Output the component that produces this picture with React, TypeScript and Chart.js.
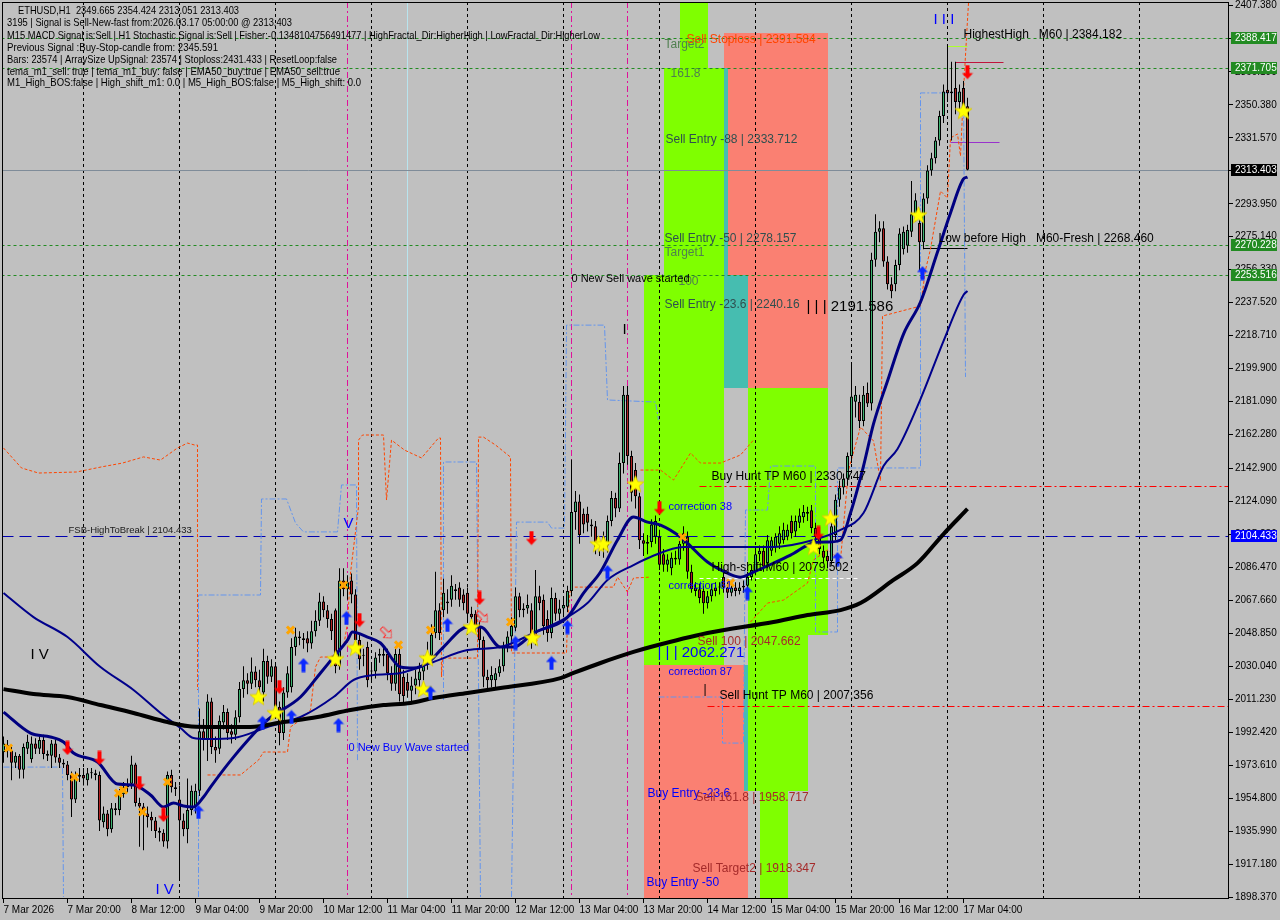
import React, { useEffect, useRef } from 'react';
import { Chart, registerables } from 'chart.js';

Chart.register(...registerables);
Chart.defaults.font.family = '"Liberation Sans", Arial, sans-serif';

// ETHUSD H1, bar 0 = 7 Mar 04:00, one bar per hour up to 17 Mar 05:00
const opens = [
  1981, 1985, 1982, 1975, 1979, 1971, 1983, 1977, 1986, 1983,
  1988, 1980, 1979, 1986, 1978, 1975, 1974, 1968, 1954, 1967,
  1968, 1965, 1969, 1969, 1968, 1941, 1946, 1937, 1949, 1948,
  1957, 1961, 1963, 1974, 1952, 1950, 1946, 1944, 1942, 1936,
  1935, 1930, 1968, 1961, 1954, 1942, 1937, 1948, 1950, 1959,
  1993, 1988, 2010, 1984, 1983, 1998, 2004, 1993, 1991, 2001,
  2017, 2022, 2020, 2027, 2022, 2015, 2033, 2024, 2030, 2007,
  1992, 2015, 2018, 2041, 2047, 2046, 2046, 2043, 2050, 2056,
  2067, 2062, 2057, 2062, 2030, 2079, 2074, 2079, 2071, 2045,
  2036, 2041, 2027, 2027, 2036, 2036, 2037, 2026, 2020, 2037,
  2024, 2021, 2016, 2019, 2022, 2027, 2031, 2036, 2049, 2062,
  2062, 2066, 2068, 2073, 2075, 2071, 2072, 2060, 2060, 2053,
  2045, 2024, 2022, 2022, 2026, 2030, 2041, 2047, 2052, 2070,
  2062, 2063, 2062, 2045, 2070, 2068, 2057, 2049, 2069, 2060,
  2063, 2064, 2073, 2118, 2124, 2117, 2117, 2111, 2110, 2099,
  2104, 2099, 2113, 2126, 2120, 2146, 2185, 2150, 2142, 2127,
  2102, 2100, 2101, 2104, 2104, 2094, 2088, 2086, 2092, 2091,
  2100, 2104, 2084, 2075, 2074, 2073, 2066, 2070, 2075, 2075,
  2081, 2075, 2072, 2075, 2073, 2075, 2076, 2081, 2084, 2094,
  2096, 2089, 2096, 2098, 2100, 2102, 2104, 2113, 2107, 2112,
  2115, 2118, 2119, 2109, 2104, 2096, 2093, 2090, 2105, 2125,
  2132, 2137, 2150, 2181, 2181, 2170, 2186, 2180, 2262, 2278,
  2280, 2261, 2248, 2248, 2259, 2268, 2270, 2278, 2288, 2283,
  2272, 2297, 2313, 2320, 2330, 2344, 2359, 2357, 2360, 2352,
  2360, 2349.665,
];
const highs = [
  1990, 1988, 1984, 1981, 1980, 1986, 1991, 1990, 1989, 1991,
  1991, 1982, 1988, 1988, 1980, 1977, 1976, 1970, 1970, 1972,
  1972, 1972, 1972, 1971, 1970, 1950, 1948, 1952, 1952, 1960,
  1964, 1966, 1979, 1975, 1955, 1952, 1950, 1947, 1944, 1938,
  1937, 1970, 1971, 1964, 1962, 1946, 1966, 1962, 1963, 2006,
  2000, 2014, 2012, 1990, 2002, 2008, 2006, 1997, 2005, 2021,
  2030, 2026, 2035, 2030, 2028, 2040, 2036, 2034, 2032, 2010,
  2018, 2030, 2046, 2052, 2050, 2049, 2050, 2056, 2062, 2072,
  2070, 2065, 2060, 2063, 2086, 2086, 2082, 2083, 2074, 2048,
  2040, 2044, 2031, 2038, 2040, 2041, 2040, 2030, 2040, 2040,
  2028, 2026, 2024, 2028, 2032, 2036, 2044, 2054, 2084, 2066,
  2080, 2074, 2082, 2077, 2078, 2074, 2075, 2064, 2062, 2056,
  2047, 2028, 2030, 2029, 2034, 2044, 2050, 2058, 2075, 2072,
  2066, 2071, 2066, 2085, 2076, 2071, 2062, 2075, 2072, 2068,
  2070, 2076, 2148, 2130, 2128, 2120, 2121, 2114, 2113, 2102,
  2107, 2116, 2130, 2129, 2152, 2190, 2190, 2153, 2146, 2129,
  2106, 2105, 2114, 2116, 2108, 2097, 2094, 2095, 2096, 2103,
  2110, 2107, 2088, 2078, 2077, 2076, 2073, 2077, 2078, 2078,
  2084, 2078, 2078, 2078, 2078, 2079, 2084, 2088, 2097, 2099,
  2099, 2105, 2104, 2106, 2110, 2112, 2111, 2116, 2116, 2120,
  2122, 2121, 2122, 2112, 2107, 2099, 2096, 2113, 2128, 2136,
  2140, 2152, 2202, 2190, 2185, 2190, 2192, 2266, 2288, 2284,
  2284, 2264, 2252, 2262, 2280, 2281, 2282, 2307, 2300, 2286,
  2300, 2316, 2323, 2332, 2347, 2362, 2384.5, 2375, 2375, 2362,
  2364, 2354.424,
];
const lows = [
  1975, 1978, 1965, 1972, 1966, 1966, 1980, 1975, 1980, 1980,
  1977, 1976, 1972, 1975, 1972, 1972, 1965, 1944, 1952, 1964,
  1962, 1962, 1966, 1965, 1936, 1938, 1933, 1935, 1945, 1945,
  1955, 1958, 1960, 1950, 1927, 1925, 1938, 1936, 1932, 1930,
  1927, 1926, 1958, 1956, 1908, 1933, 1929, 1945, 1946, 1956,
  1982, 1976, 1980, 1975, 1980, 1994, 1988, 1986, 1988, 1998,
  2012, 2014, 2017, 2018, 2012, 2010, 2020, 2021, 2000, 1985,
  1988, 2012, 2015, 2036, 2042, 2040, 2038, 2040, 2047, 2053,
  2058, 2052, 2045, 2026, 2028, 2070, 2068, 2066, 2040, 2028,
  2030, 2018, 2022, 2023, 2032, 2030, 2022, 2016, 2016, 2010,
  2008, 2012, 2010, 2014, 2018, 2022, 2028, 2033, 2046, 2045,
  2058, 2060, 2064, 2068, 2064, 2062, 2056, 2054, 2049, 2040,
  2018, 2017, 2018, 2017, 2024, 2027, 2038, 2043, 2050, 2058,
  2058, 2060, 2040, 2042, 2062, 2048, 2044, 2046, 2056, 2056,
  2058, 2061, 2070, 2108, 2100, 2106, 2107, 2104, 2094, 2093,
  2092, 2095, 2110, 2115, 2118, 2140, 2145, 2124, 2120, 2097,
  2093, 2094, 2098, 2100, 2085, 2084, 2084, 2082, 2088, 2088,
  2096, 2080, 2072, 2070, 2066, 2060, 2063, 2067, 2070, 2071,
  2072, 2069, 2070, 2070, 2071, 2072, 2073, 2079, 2082, 2090,
  2084, 2086, 2093, 2095, 2097, 2100, 2102, 2103, 2104, 2109,
  2112, 2113, 2106, 2101, 2094, 2089, 2086, 2088, 2102, 2121,
  2128, 2133, 2146, 2172, 2166, 2167, 2178, 2176, 2258, 2272,
  2258, 2245, 2240, 2244, 2256, 2265, 2266, 2275, 2284, 2256,
  2268, 2294, 2310, 2317, 2327, 2340, 2352, 2330, 2345, 2348,
  2345, 2313.051,
];
const closes = [
  1986, 1982, 1975, 1979, 1971, 1984, 1987, 1986, 1983, 1988,
  1980, 1979, 1986, 1978, 1975, 1974, 1968, 1954, 1967, 1968,
  1966, 1969, 1969, 1968, 1942, 1946, 1937, 1949, 1948, 1957,
  1961, 1962, 1974, 1952, 1950, 1946, 1944, 1942, 1936, 1935,
  1930, 1968, 1961, 1960, 1942, 1937, 1948, 1959, 1959, 1993,
  1988, 2010, 1984, 1982, 1999, 2004, 1992, 1991, 2001, 2017,
  2022, 2020, 2027, 2022, 2018, 2033, 2024, 2030, 2007, 1992,
  2015, 2026, 2041, 2047, 2046, 2045, 2043, 2050, 2056, 2067,
  2062, 2057, 2050, 2030, 2079, 2074, 2078, 2071, 2045, 2034,
  2036, 2022, 2027, 2035, 2037, 2037, 2026, 2020, 2037, 2014,
  2013, 2016, 2019, 2023, 2027, 2031, 2036, 2048, 2062, 2049,
  2072, 2067, 2076, 2074, 2068, 2066, 2060, 2058, 2053, 2045,
  2024, 2022, 2025, 2026, 2030, 2041, 2047, 2053, 2070, 2062,
  2063, 2065, 2045, 2070, 2066, 2053, 2049, 2069, 2060, 2063,
  2065, 2073, 2118, 2124, 2105, 2111, 2112, 2110, 2098, 2098,
  2099, 2113, 2126, 2120, 2146, 2185, 2150, 2129, 2127, 2102,
  2100, 2101, 2111, 2113, 2088, 2088, 2091, 2092, 2091, 2100,
  2106, 2084, 2074, 2073, 2069, 2066, 2070, 2074, 2073, 2075,
  2075, 2072, 2075, 2073, 2075, 2076, 2081, 2085, 2094, 2096,
  2087, 2102, 2102, 2104, 2106, 2108, 2108, 2106, 2113, 2116,
  2118, 2117, 2109, 2104, 2097, 2092, 2090, 2110, 2125, 2132,
  2137, 2150, 2184, 2185, 2170, 2185, 2180, 2262, 2278, 2280,
  2261, 2248, 2244, 2259, 2277, 2278, 2279, 2288, 2296, 2272,
  2297, 2313, 2320, 2330, 2344, 2358, 2357, 2358, 2352, 2358,
  2349.7, 2313.403,
];

const timeTickBars = [0, 16, 32, 48, 64, 80, 96, 112, 128, 144, 160, 176, 192, 208, 224, 240];
const timeTickLabels = [
  '7 Mar 2026', '7 Mar 20:00', '8 Mar 12:00', '9 Mar 04:00', '9 Mar 20:00', '10 Mar 12:00',
  '11 Mar 04:00', '11 Mar 20:00', '12 Mar 12:00', '13 Mar 04:00', '13 Mar 20:00', '14 Mar 12:00',
  '15 Mar 04:00', '15 Mar 20:00', '16 Mar 12:00', '17 Mar 04:00',
];
const dayStartBars = [20, 44, 68, 92, 116, 140, 164, 188, 212, 236, 260, 284];
const priceTicks = [
  2407.38, 2388.0, 2369.19, 2350.38, 2331.57, 2312.76, 2293.95, 2275.14, 2256.33, 2237.52,
  2218.71, 2199.9, 2181.09, 2162.28, 2142.9, 2124.09, 2105.28, 2086.47, 2067.66, 2048.85,
  2030.04, 2011.23, 1992.42, 1973.61, 1954.8, 1935.99, 1917.18, 1898.37,
];

// moving averages, read as [bar, price]
const emaFast = [
  [0, 2003.9], [6.75, 1991.9], [11.75, 1989.7], [15, 1986.8], [17.5, 1980.5], [23.5, 1975.4],
  [28.5, 1962.8], [32.5, 1962.3], [36.75, 1956.6], [40, 1949.7], [42.5, 1952.0], [45, 1950.3],
  [47.5, 1949.7], [50, 1955.4], [51.75, 1961.1], [57.5, 1978.2], [66, 1999.4], [74.25, 2012.5],
  [79.25, 2026.2], [82.5, 2035.3], [86, 2045.0], [87.25, 2049.6], [91, 2046.7], [94.25, 2043.3],
  [99.25, 2029.6], [102.5, 2029.0], [106, 2031.9], [110, 2041.0], [116, 2052.4], [119.25, 2052.4],
  [124.25, 2041.0], [127.5, 2041.0], [132.5, 2049.0], [141, 2058.1], [145, 2071.8], [149.25, 2083.8],
  [153.5, 2102.1], [157.5, 2115.2], [161, 2112.3], [164.25, 2110.6], [169.25, 2103.8], [176, 2089.5],
  [181, 2083.2], [184.25, 2080.9], [187.5, 2083.8], [192.5, 2088.9], [196.75, 2093.5], [202.5, 2100.4],
  [206, 2100.9], [209.25, 2102.1], [211.75, 2117.5], [215, 2144.3], [217.5, 2168.3], [221, 2192.8],
  [225, 2219.6], [229.25, 2237.9], [233.5, 2266.4], [236.75, 2288.7], [240, 2308.1], [241, 2309.2],
];
const emaSlow = [
  [0, 2071.8], [7.5, 2058.1], [16, 2046.7], [24.25, 2029.6], [32.5, 2016.5], [39.25, 2003.4],
  [44.25, 1994.8], [47.5, 1989.1], [51, 1988.5], [57.5, 1989.1], [66, 1995.4], [74.25, 2001.1],
  [82.5, 2012.5], [87.5, 2022.2], [92.5, 2025.0], [99.25, 2026.2], [107.5, 2032.5], [116, 2039.3],
  [124.25, 2041.0], [132.5, 2049.0], [141, 2058.1], [146, 2066.1], [151, 2079.3], [157.5, 2087.8],
  [161.75, 2092.4], [170, 2098.1], [184.25, 2098.1], [192.5, 2098.1], [202.5, 2102.1], [209.25, 2107.8],
  [215, 2117.5], [220, 2144.3], [223.5, 2154.0], [229.25, 2182.5], [235, 2215.6], [240, 2241.9],
  [241, 2244.2],
];
const ma200 = [
  [0, 2017.0], [7.5, 2014.2], [16, 2012.5], [24.25, 2007.9], [32.5, 2003.4], [41, 1998.2],
  [46, 1995.9], [51, 1995.4], [61.75, 1995.4], [70, 1998.2], [78.5, 2001.1], [86.75, 2005.1],
  [95, 2007.9], [101.75, 2009.1], [107.5, 2011.9], [116, 2014.8], [124.25, 2017.6], [139.25, 2023.3],
  [142.5, 2026.2], [149.25, 2031.9], [157.5, 2038.2], [161.75, 2041.0], [176, 2049.0], [192.5, 2055.3],
  [201, 2059.3], [209.25, 2062.1], [214.25, 2066.1], [222.5, 2079.3], [228.5, 2088.9], [235, 2105.5],
  [241, 2119.8],
];

// fractal channel steps, one array per unbroken run: [bar, price]
const orangeRuns = [
  [[0, 2154.6], [4.5, 2143.2], [8.75, 2140.3], [18.25, 2140.9], [24.5, 2143.8], [29.75, 2146.0],
    [35, 2149.5], [39.25, 2147.7], [43.5, 2154.6], [46, 2157.4], [47.75, 2156.3], [48.5, 2156.3], [48.5, 2016.5]],
  [[51, 1968.0], [59.25, 1968.0], [63.75, 1976.5], [65, 1981.1], [71, 1981.1], [71.75, 1995.4],
    [74.25, 1999.4], [76.75, 2005.1], [78, 2029.6], [79.25, 2035.3], [81.75, 2035.3], [85, 2041.0],
    [86, 2054.7], [86.75, 2083.2], [87.75, 2102.1], [88.75, 2120.9], [88.75, 2159.1], [89.75, 2162.0],
    [95, 2162.0], [95.75, 2124.9], [97, 2159.1], [100.25, 2153.4], [104.5, 2148.9], [108.75, 2160.3],
    [109.25, 2160.3], [109.5, 2023.9], [109.75, 2034.7], [118.5, 2034.7], [118.75, 2160.8], [120, 2160.8],
    [123, 2156.3], [126.75, 2149.4], [127, 2037.6], [140.75, 2037.6], [141, 2056.4], [141.75, 2075.2],
    [152.5, 2075.2], [153.5, 2080.9], [156, 2072.4], [157.5, 2080.4], [161.75, 2080.9]],
  [[159.25, 2142.0], [164.25, 2142.0], [167.5, 2136.3], [171.75, 2151.7], [174.25, 2146.0],
    [179.25, 2146.0], [184.25, 2150.6], [187.5, 2159.1]],
  [[186.75, 2055.3], [191, 2066.1], [195, 2067.8], [201, 2077.5], [202.5, 2090.7], [206, 2096.4],
    [209.25, 2090.7], [211.25, 2142.0], [214.25, 2166.6], [217.5, 2158.6], [219.25, 2135.8],
    [219.75, 2229.9], [229.25, 2235.6], [230.5, 2256.2], [231.75, 2268.1], [234.25, 2301.2],
    [236, 2297.2], [236.75, 2331.5], [238.5, 2333.8], [239.25, 2321.2], [240, 2358.3], [241, 2398.8],
    [241.25, 2408.5]],
];
const blueRuns = [
  [[0, 1972.5], [14.75, 1972.5], [15, 1898.4]],
  [[48.75, 1898.4], [48.75, 2070.7], [64.25, 2070.7], [64.5, 2125.5], [70.75, 2125.5], [73, 2111.8],
    [75, 2106.7], [83.5, 2106.7], [84.5, 2133.5], [88.25, 2133.5], [88.5, 1976.5]],
  [[110, 2010.8], [110, 2146.6], [118.25, 2146.6], [119.25, 1898.4]],
  [[127, 1898.4], [128.25, 2112.3], [136, 2112.3], [137, 2108.9], [140.25, 2108.9], [140.75, 2224.7],
    [150.25, 2224.7], [151, 2182.0], [163, 2180.8], [163.75, 2170.6]],
  [[163.75, 2012.5], [179.75, 2012.5], [179.75, 1986.2], [185, 1986.2], [185.5, 2119.2], [191, 2119.2],
    [191.75, 2144.3], [203, 2144.3], [203, 2049.6], [208.5, 2049.6], [208.5, 2143.2], [229.25, 2143.2],
    [229.25, 2357.2], [240, 2357.2], [240.5, 2195.1]],
];

// signal marks: [bar, price]
const sellArrows = [
  [16, 1983.4], [24, 1977.7], [34, 1963.4], [40, 1945.2], [69, 2018.2], [89, 2056.4],
  [119, 2069.0], [132, 2103.2], [164, 2120.3], [203.75, 2106.1], [241, 2369.1],
];
const buyArrows = [
  [48.75, 1946.9], [64.75, 1997.7], [72, 2001.1], [75, 2030.7], [85.75, 2057.6], [83.75, 1996.5],
  [106.75, 2014.8], [111, 2053.6], [128, 2043.3], [137, 2031.9], [141, 2052.4], [151, 2083.8],
  [186, 2071.8], [208.5, 2091.2], [229.75, 2254.4],
];
const hollowArrows = [[95.75, 2049.0], [119.75, 2058.1]];
const stars = [
  [63.75, 2012.5], [68, 2003.4], [83, 2034.2], [88, 2040.5], [106, 2034.7], [105, 2017.0],
  [117, 2052.4], [132.25, 2046.2], [148.75, 2099.8], [150, 2099.8], [158, 2134.0], [202.5, 2098.1],
  [206.75, 2114.6], [228.75, 2287.5], [240, 2346.9],
];
const crosses = [
  [1.25, 1983.4], [17.75, 1966.8], [28.75, 1957.7], [30, 1959.4], [34.75, 1946.9], [41, 1964.0],
  [71.75, 2050.7], [85, 2076.4], [98.75, 2042.2], [106.75, 2050.7], [126.75, 2055.3], [132.5, 2046.2],
  [169.75, 2103.8], [181.75, 2077.6],
];

// trade zones: [kind, fromBar, toBar, topPrice, bottomPrice]
const zones = [
  ['salmon', 180, 206, 2391.584, 2188.8],
  ['lime', 169, 176, 2420, 2371.705],
  ['lime', 165, 180, 2371.705, 2253.516],
  ['lime', 160, 180, 2253.516, 2030.5],
  ['teal', 180, 181, 2371.705, 2253.516],
  ['teal', 180, 186, 2253.516, 2188.8],
  ['lime', 186, 206, 2188.8, 2047.662],
  ['lime', 186, 201, 2047.662, 1958.717],
  ['lime', 189, 196, 1958.717, 1880],
  ['salmon', 160, 186, 2030.5, 1880],
  ['teal', 185, 186, 2030.5, 1958.717],
];
// horizontal levels: [price, fromBar, toBar, kind]
const levels = [
  [2388.417, -5, 320, 'green'],
  [2371.705, -5, 320, 'green'],
  [2270.228, -5, 320, 'green'],
  [2253.516, -5, 320, 'green'],
  [2313.403, -5, 320, 'bid'],
  [2104.433, -5, 320, 'fsb'],
  [2132.9, 174, 320, 'hunt'],
  [2007.6, 176, 320, 'hunt'],
  [2080.4, 174, 214, 'shift'],
  [2268.46, 230, 241, 'fresh'],
  [2384.18, 236, 241, 'highest'],
  [2374.8, 238, 250, 'crimson'],
  [2329.2, 236.75, 249, 'violet'],
];
// vertical markers: [bar, kind]
const markerLines = [[86, 'magenta'], [142, 'magenta'], [156, 'magenta'], [101, 'cyan']];

// text objects: [text, bar, price, kind]
const chartLabels = [
  ['HighestHigh   M60 | 2384.182', 240, 2390.3, 'plain'],
  ['Target2', 165.25, 2384.6, 'target'],
  ['Sell Stoploss | 2391.584', 170.75, 2387.4, 'stop'],
  ['161.8', 166.75, 2368.0, 'target'],
  ['Sell Entry -88 | 2333.712', 165.5, 2330.3, 'entry'],
  ['Sell Entry -50 | 2278.157', 165.25, 2273.8, 'entry'],
  ['Target1', 165.25, 2265.9, 'target'],
  ['100', 168.75, 2249.3, 'target'],
  ['0 New Sell wave started', 142, 2251.0, 'wave'],
  ['Sell Entry -23.6 | 2240.16', 165.25, 2236.2, 'entry'],
  ['| | | 2191.586', 200.75, 2235.0, 'bigBlack'],
  ['Low before High   M60-Fresh | 2268.460', 233.75, 2273.8, 'plain'],
  ['Buy Hunt TP M60 | 2330.747', 177, 2138.0, 'plain'],
  ['correction 38', 166.25, 2120.9, 'corr'],
  ['FSB-HighToBreak | 2104.433', 16.25, 2107.8, 'fsb'],
  ['High-shift M60 | 2079.502', 177, 2086.1, 'plain'],
  ['correction 61', 166.25, 2075.8, 'corr'],
  ['Sell 100 | 2047.662', 173.5, 2043.9, 'sell'],
  ['| | | 2062.271', 163.5, 2037.6, 'bigBlue'],
  ['correction 87', 166.25, 2026.8, 'corr'],
  ['|', 175, 2016.5, 'plain'],
  ['Sell Hunt TP M60 | 2007.356', 179, 2013.1, 'plain'],
  ['0 New Buy Wave started', 86.25, 1983.4, 'corr'],
  ['Buy Entry -23.6', 161, 1957.1, 'buy'],
  ['Sell 161.8 | 1958.717', 173, 1954.8, 'sell'],
  ['Sell Target2 | 1918.347', 172.25, 1914.3, 'sell'],
  ['Buy Entry -50', 160.75, 1906.3, 'buy'],
  ['I V', 6.75, 2036.5, 'roman'],
  ['I V', 38, 1902.4, 'romanBlue'],
  ['V', 85, 2111.2, 'romanBlue'],
  ['I I I', 232.5, 2398.8, 'romanBlue'],
  ['I', 154.75, 2221.9, 'roman'],
];
const axisTags = [
  [2388.417, 'green'], [2371.705, 'green'], [2313.403, 'bid'],
  [2270.228, 'green'], [2253.516, 'green'], [2104.433, 'fsb'],
];
const infoLines = [
  'ETHUSD,H1  2349.665 2354.424 2313.051 2313.403',
  '3195 | Signal is Sell-New-fast from:2026.03.17 05:00:00 @ 2313.403',
  'M15 MACD Signal is:Sell | H1 Stochastic Signal is:Sell | Fisher:-0.1348104756491477 | HighFractal_Dir:HigherHigh | LowFractal_Dir:HigherLow',
  'Previous Signal :Buy-Stop-candle from: 2345.591',
  'Bars: 23574 | ArraySize UpSignal: 23574 | Stoploss:2431.433 | ResetLoop:false',
  'tema_m1_sell: true | tema_m1_buy: false | EMA50_buy:true | EMA50_sell:true',
  'M1_High_BOS:false | High_shift_m1: 0.0 | M5_High_BOS:false | M5_High_shift: 0.0',
];

// ---- styling ----
const FONT = '"Liberation Sans", Arial, sans-serif';
const BG = '#c0c0c0';
const BULL = '#3cb371';
const BEAR = '#b22222';
const ZONE_FILL: Record<string, string> = { lime: '#7fff00', salmon: '#fa8072', teal: '#46bdb0' };
const LEVEL_STYLE: Record<string, { color: string; dash: number[]; width: number }> = {
  green: { color: '#228b22', dash: [3, 3], width: 1 },
  bid: { color: '#7f8c99', dash: [], width: 1 },
  fsb: { color: '#0000b0', dash: [12, 6], width: 1 },
  hunt: { color: '#ff0000', dash: [7, 3, 2, 3], width: 1 },
  shift: { color: '#ffffff', dash: [4, 3], width: 1 },
  fresh: { color: '#000000', dash: [], width: 1 },
  highest: { color: '#adff2f', dash: [], width: 1 },
  crimson: { color: '#c0143c', dash: [], width: 1 },
  violet: { color: '#9932cc', dash: [], width: 1 },
};
const MARKER_LINE: Record<string, { color: string; dash: number[] }> = {
  magenta: { color: '#e0109a', dash: [6, 3, 2, 3] },
  cyan: { color: '#b8e4ee', dash: [] },
};
const LABEL_STYLE: Record<string, { color: string; size: number }> = {
  plain: { color: '#000000', size: 12 },
  stop: { color: '#ff4500', size: 12 },
  target: { color: '#4f7f4f', size: 12 },
  entry: { color: '#2f4f4f', size: 12 },
  wave: { color: '#000000', size: 11 },
  bigBlack: { color: '#000000', size: 15 },
  bigBlue: { color: '#0000ff', size: 15 },
  corr: { color: '#0000ff', size: 11 },
  fsb: { color: '#202020', size: 9.5 },
  sell: { color: '#a52a2a', size: 12 },
  buy: { color: '#0000ff', size: 12 },
  roman: { color: '#000000', size: 15 },
  romanBlue: { color: '#0000ff', size: 15 },
};
const TAG_FILL: Record<string, string> = { green: '#228b22', bid: '#000000', fsb: '#0000ff' };
// left edge / right edge of each info line on the picture
const INFO_X = [18, 7, 7, 7, 7, 7, 7];
const INFO_END = [239, 292, 600, 218, 337, 340, 361];
const INFO_Y = [11, 23, 36, 48, 60, 72, 83];

function arrowIcon(color: string, down: boolean, hollow = false) {
  const c = document.createElement('canvas');
  c.width = 12;
  c.height = 15;
  const g = c.getContext('2d')!;
  const pts = [[6, 0.5], [11.5, 6.5], [8, 6.5], [8, 14.5], [4, 14.5], [4, 6.5], [0.5, 6.5]];
  g.beginPath();
  pts.forEach(([x, y], k) => {
    const yy = down ? 15 - y : y;
    if (k) g.lineTo(x, yy);
    else g.moveTo(x, yy);
  });
  g.closePath();
  if (hollow) {
    g.strokeStyle = color;
    g.lineWidth = 1;
    g.stroke();
  } else {
    g.fillStyle = color;
    g.fill();
  }
  return c;
}

function starIcon() {
  const c = document.createElement('canvas');
  c.width = 19;
  c.height = 19;
  const g = c.getContext('2d')!;
  g.beginPath();
  for (let k = 0; k < 10; k++) {
    const r = k % 2 ? 3.8 : 9;
    const a = -Math.PI / 2 + (k * Math.PI) / 5;
    const x = 9.5 + r * Math.cos(a);
    const y = 10 + r * Math.sin(a);
    if (k) g.lineTo(x, y);
    else g.moveTo(x, y);
  }
  g.closePath();
  g.fillStyle = '#ffff00';
  g.fill();
  g.strokeStyle = '#d8c800';
  g.lineWidth = 0.8;
  g.stroke();
  return c;
}

const pts = (arr: number[][]) => arr.map(([x, y]) => ({ x, y }));

const overlay = {
  id: 'mt4overlay',
  beforeDraw(chart: any) {
    const { ctx, chartArea: a } = chart;
    const xs = chart.scales.x;
    const ys = chart.scales.y;
    ctx.save();
    ctx.fillStyle = BG;
    ctx.fillRect(0, 0, chart.width, chart.height);
    ctx.beginPath();
    ctx.rect(a.left, a.top, a.right - a.left, a.bottom - a.top);
    ctx.clip();
    zones.forEach(([kind, b0, b1, top, bottom]: any) => {
      const x0 = Math.round(xs.getPixelForValue(b0));
      const x1 = Math.round(xs.getPixelForValue(b1));
      const y0 = Math.round(ys.getPixelForValue(top));
      const y1 = Math.round(ys.getPixelForValue(bottom));
      ctx.fillStyle = ZONE_FILL[kind];
      ctx.fillRect(x0, y0, x1 - x0, y1 - y0);
    });
    ctx.restore();
  },
  beforeDatasetsDraw(chart: any) {
    const { ctx, chartArea: a } = chart;
    const xs = chart.scales.x;
    const ys = chart.scales.y;
    ctx.save();
    ctx.beginPath();
    ctx.rect(a.left, a.top, a.right - a.left, a.bottom - a.top);
    ctx.clip();
    ctx.lineWidth = 1;
    markerLines.forEach(([bar, kind]: any) => {
      const st = MARKER_LINE[kind];
      const x = Math.floor(xs.getPixelForValue(bar)) + 0.5;
      ctx.strokeStyle = st.color;
      ctx.setLineDash(st.dash);
      ctx.beginPath();
      ctx.moveTo(x, a.top);
      ctx.lineTo(x, a.bottom);
      ctx.stroke();
    });
    levels.forEach(([price, b0, b1, kind]: any) => {
      const st = LEVEL_STYLE[kind];
      const y = Math.round(ys.getPixelForValue(price)) + 0.5;
      ctx.strokeStyle = st.color;
      ctx.lineWidth = st.width;
      ctx.setLineDash(st.dash);
      ctx.beginPath();
      ctx.moveTo(xs.getPixelForValue(b0), y);
      ctx.lineTo(xs.getPixelForValue(b1), y);
      ctx.stroke();
    });
    ctx.restore();
  },
  afterDatasetsDraw(chart: any) {
    const { ctx, chartArea: a } = chart;
    const xs = chart.scales.x;
    const ys = chart.scales.y;
    ctx.save();
    ctx.beginPath();
    ctx.rect(a.left, a.top, a.right - a.left, a.bottom - a.top);
    ctx.clip();
    ctx.textBaseline = 'middle';
    ctx.textAlign = 'left';
    chartLabels.forEach(([text, bar, price, kind]: any) => {
      const st = LABEL_STYLE[kind];
      ctx.font = `${st.size}px ${FONT}`;
      ctx.fillStyle = st.color;
      ctx.fillText(text, xs.getPixelForValue(bar), ys.getPixelForValue(price));
    });
    ctx.restore();
  },
  afterDraw(chart: any) {
    const { ctx, chartArea: a } = chart;
    const ys = chart.scales.y;
    ctx.save();
    ctx.strokeStyle = '#000';
    ctx.lineWidth = 1;
    ctx.setLineDash([]);
    ctx.strokeRect(a.left + 0.5, a.top + 0.5, a.right - a.left - 1, a.bottom - a.top - 1);
    ctx.textBaseline = 'middle';
    ctx.font = `10px ${FONT}`;
    axisTags.forEach(([price, kind]: any) => {
      const y = Math.round(ys.getPixelForValue(price));
      ctx.fillStyle = TAG_FILL[kind];
      ctx.fillRect(a.right + 2, y - 6, 46, 12);
      ctx.fillStyle = '#ffffff';
      ctx.fillText(Number(price).toFixed(3), a.right + 6, y + 0.5);
    });
    ctx.fillStyle = '#000';
    ctx.font = `10.5px ${FONT}`;
    infoLines.forEach((line, k) => {
      const w = ctx.measureText(line).width;
      const target = INFO_END[k] - INFO_X[k];
      ctx.save();
      ctx.translate(INFO_X[k], INFO_Y[k]);
      ctx.scale(Math.min(1, target / w), 1);
      ctx.fillText(line, 0, 0);
      ctx.restore();
    });
    ctx.restore();
  },
};

const App: React.FC = () => {
  const canvasRef = useRef<HTMLCanvasElement>(null);

  useEffect(() => {
    document.body.style.margin = '0';
    document.body.style.background = BG;
    if (!canvasRef.current) return;

    const bars = opens.map((_, i) => i);
    const downRed = arrowIcon('#ff0000', true);
    const upBlue = arrowIcon('#0a28ff', false);
    const hollowRed = arrowIcon('#ff3030', true, true);
    const star = starIcon();

    const xMin = -0.375;
    const xMax = 306.375;

    const channelSets = [
      ...orangeRuns.map((run) => ({
        type: 'line', data: pts(run), borderColor: '#ff4500', borderWidth: 1,
        borderDash: [3, 2], pointRadius: 0, order: 6,
      })),
      ...blueRuns.map((run) => ({
        type: 'line', data: pts(run), borderColor: '#6495ed', borderWidth: 1,
        borderDash: [6, 2, 2, 2], pointRadius: 0, order: 6,
      })),
    ];

    const markerSet = (data: number[][], style: any, extra: any = {}) => ({
      type: 'line', data: pts(data), showLine: false, pointStyle: style,
      pointRadius: 6, order: 0, ...extra,
    });

    const chart = new Chart(canvasRef.current, {
      type: 'line',
      data: {
        datasets: [
          ...channelSets,
          {
            type: 'bar',
            data: bars.map((i) => ({ x: i, y: [lows[i], highs[i]] })),
            barThickness: 1, backgroundColor: '#000', borderWidth: 0,
            grouped: false, inflateAmount: 0, order: 5,
          },
          {
            type: 'bar',
            data: bars.map((i) => {
              const lo = Math.min(opens[i], closes[i]);
              const hi = Math.max(opens[i], closes[i]);
              return { x: i, y: [lo, Math.max(hi, lo + 0.6)] };
            }),
            barThickness: 3,
            backgroundColor: (c: any) => (closes[c.dataIndex] >= opens[c.dataIndex] ? BULL : BEAR),
            borderColor: '#000', borderWidth: 1, borderSkipped: false,
            grouped: false, inflateAmount: 0, order: 4,
          },
          {
            type: 'line', data: pts(ma200), borderColor: '#000000', borderWidth: 4,
            pointRadius: 0, cubicInterpolationMode: 'monotone', order: 2,
          },
          {
            type: 'line', data: pts(emaSlow), borderColor: '#00008b', borderWidth: 2,
            pointRadius: 0, cubicInterpolationMode: 'monotone', order: 2,
          },
          {
            type: 'line', data: pts(emaFast), borderColor: '#000080', borderWidth: 3,
            pointRadius: 0, cubicInterpolationMode: 'monotone', order: 1,
          },
          markerSet(sellArrows, downRed),
          markerSet(buyArrows, upBlue),
          markerSet(hollowArrows, hollowRed, { pointRotation: -45 }),
          markerSet(stars, star),
          markerSet(crosses, 'crossRot', { pointRadius: 5, borderColor: '#ffa500', borderWidth: 3 }),
        ] as any,
      },
      options: {
        animation: false,
        responsive: false,
        devicePixelRatio: 1,
        events: [],
        layout: { autoPadding: false, padding: { top: 2, left: 2, right: 0, bottom: 0 } },
        plugins: { legend: { display: false }, tooltip: { enabled: false } },
        scales: {
          x: {
            type: 'linear', position: 'bottom', min: xMin, max: xMax, offset: false,
            grid: { drawOnChartArea: false, drawTicks: true, tickLength: 4, color: '#000', offset: false },
            border: { display: false },
            ticks: {
              autoSkip: false, maxRotation: 0, minRotation: 0, align: 'start', padding: 1,
              color: '#000', font: { size: 10, family: FONT },
              callback: (v: any) => {
                const k = timeTickBars.indexOf(Number(v));
                return k >= 0 ? timeTickLabels[k] : '';
              },
            },
            afterBuildTicks: (s: any) => { s.ticks = timeTickBars.map((value) => ({ value })); },
            afterFit: (s: any) => { s.height = 21; s.paddingLeft = 0; s.paddingRight = 0; },
          },
          x2: {
            type: 'linear', axis: 'x', position: 'top', min: xMin, max: xMax, offset: false,
            grid: { drawOnChartArea: true, drawTicks: false, color: '#000', lineWidth: 1 },
            border: { display: false, dash: [3, 3] },
            ticks: { display: false },
            afterBuildTicks: (s: any) => { s.ticks = dayStartBars.map((value) => ({ value })); },
            afterFit: (s: any) => { s.height = 0; s.paddingLeft = 0; s.paddingRight = 0; },
          },
          y: {
            type: 'linear', position: 'right', min: 1897.229, max: 2409.092,
            grid: { drawOnChartArea: false, drawTicks: true, tickLength: 4, color: '#000' },
            border: { display: false },
            ticks: {
              padding: 2, color: '#000', font: { size: 10, family: FONT },
              callback: (v: any) => Number(v).toFixed(3),
            },
            afterBuildTicks: (s: any) => { s.ticks = priceTicks.map((value) => ({ value })); },
            afterFit: (s: any) => { s.width = 51; s.paddingTop = 0; s.paddingBottom = 0; },
          },
        },
      } as any,
      plugins: [overlay as any],
    });

    return () => chart.destroy();
  }, []);

  return (
    <canvas
      ref={canvasRef}
      width={1280}
      height={920}
      style={{ display: 'block', width: 1280, height: 920 }}
    />
  );
};

export default App;
